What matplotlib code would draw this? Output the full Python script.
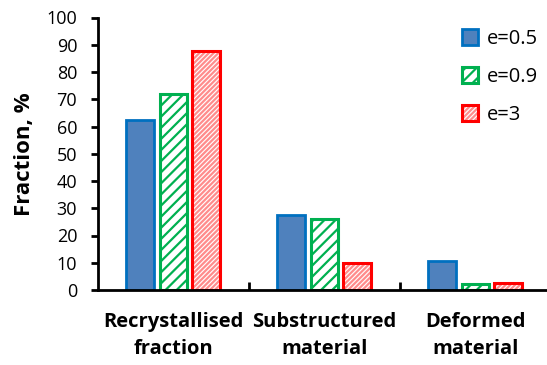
import matplotlib
matplotlib.use("Agg")
import matplotlib.pyplot as plt
from matplotlib.legend_handler import HandlerTuple
import numpy as np

categories = ["Recrystallised\nfraction", "Substructured\nmaterial", "Deformed\nmaterial"]
series_names = ["e=0.5", "e=0.9", "e=3"]
vals_e05 = [62.3, 27.5, 10.8]
vals_e09 = [72.0, 26.2, 2.3]
vals_e3 = [87.7, 9.8, 2.7]
y_ticks = [0, 10, 20, 30, 40, 50, 60, 70, 80, 90, 100]

W, H = 547, 365
fig = plt.figure(figsize=(W / 100, H / 100), dpi=100)
ax = fig.add_axes([98 / W, 1 - 290 / H, (W - 98) / W, (290 - 17.5) / H])

plt.rcParams["hatch.linewidth"] = 1.6
font = "Open Sans"

x = np.arange(len(categories))
offsets = [-0.222, 0.0, 0.218]
width = 0.185

b1 = ax.bar(x + offsets[0], vals_e05, width, color="#4F81BD", edgecolor="#0070C0",
            linewidth=2.0)
b2 = ax.bar(x + offsets[1], vals_e09, width, color="white", edgecolor="#00B050",
            linewidth=2.2, hatch="///")
# fine pink hatching, then a solid red outline on top
b3_fill = ax.bar(x + offsets[2], vals_e3, width, color="white", edgecolor="#FF8C8C",
                 linewidth=0, hatch="///////")
b3_edge = ax.bar(x + offsets[2], vals_e3, width, fill=False, edgecolor="#FF0000",
                 linewidth=2.2)

ax.set_xlim(-0.5, -0.5 + (W - 98) / 151)
ax.set_ylim(0, 100)

for s in ["top", "right"]:
    ax.spines[s].set_visible(False)
for s in ["left", "bottom"]:
    ax.spines[s].set_linewidth(2)
    ax.spines[s].set_color("black")

ax.set_yticks(y_ticks)
ax.set_yticklabels([str(v) for v in y_ticks], fontsize=13, family=font)
ax.tick_params(axis="y", direction="out", length=5, width=2, pad=10)

ax.set_xticks([0.5, 1.5])
ax.set_xticklabels([])
ax.tick_params(axis="x", which="major", direction="in", length=6, width=2)
ax.set_xticks(x, minor=True)
ax.set_xticklabels(categories, minor=True, fontsize=14.5, fontweight="bold",
                   family=font, linespacing=1.45)
ax.tick_params(axis="x", which="minor", length=0, pad=16)

ax.set_ylabel("Fraction, %", fontsize=16, fontweight="bold", family=font, labelpad=8)

handles = [b1[0], b2[0], (b3_fill[0], b3_edge[0])]
leg = ax.legend(handles, series_names, loc="upper right", bbox_to_anchor=(1.02, 1.025),
                frameon=False, prop={"family": font, "size": 14.5},
                handlelength=0.8, handleheight=0.8, handletextpad=0.45,
                labelspacing=0.9, handler_map={tuple: HandlerTuple(ndivide=1)})

fig.savefig("out.png", dpi=100)
